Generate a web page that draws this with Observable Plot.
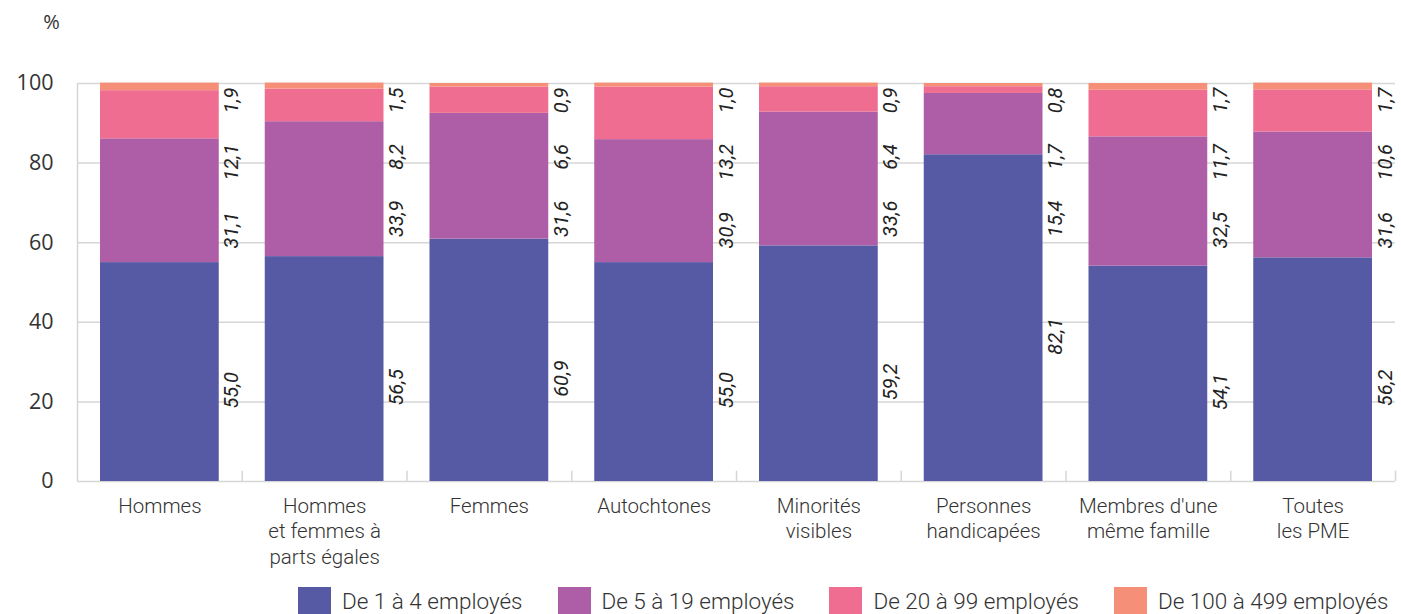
<!DOCTYPE html>
<html>
<head>
<meta charset="utf-8">
<script src="https://cdn.jsdelivr.net/npm/d3@7"></script>
<script src="https://cdn.jsdelivr.net/npm/@observablehq/plot@0.6"></script>
<style>
  html, body { margin: 0; padding: 0; background: #fff; }
  #chart { width: 1401px; }
  .legend { display: flex; justify-content: flex-start; align-items: center; gap: 35px; padding-left: 298px; height: 28px;
    font-family: Roboto, sans-serif; font-weight: 300; font-size: 22.5px; color: #333; white-space: nowrap; }
  .legend .item { display: flex; align-items: center; gap: 11px; }
  .legend .sw { width: 33px; height: 28px; display: inline-block; }
</style>
</head>
<body>
<div id="chart"></div>
<script>
const categories = [
  "Hommes",
  "Hommes\net femmes à\nparts égales",
  "Femmes",
  "Autochtones",
  "Minorités\nvisibles",
  "Personnes\nhandicapées",
  "Membres d'une\nmême famille",
  "Toutes\nles PME"
];
const seriesNames = ["De 1 à 4 employés", "De 5 à 19 employés", "De 20 à 99 employés", "De 100 à 499 employés"];
const colors = ["#5659a3", "#ad5ea6", "#ef6d90", "#f58f78"];
const s1 = [55.0, 56.5, 60.9, 55.0, 59.2, 82.1, 54.1, 56.2];
const s2 = [31.1, 33.9, 31.6, 30.9, 33.6, 15.4, 32.5, 31.6];
const s3 = [12.1, 8.2, 6.6, 13.2, 6.4, 1.7, 11.7, 10.6];
const s4 = [1.9, 1.5, 0.9, 1.0, 0.9, 0.8, 1.7, 1.7];
const yTicks = [0, 20, 40, 60, 80, 100];

const series = [s1, s2, s3, s4];
const data = [];
categories.forEach((c, i) => series.forEach((s, k) => data.push({cat: c, series: seriesNames[k], value: s[i], k})));

const W = 1401, H = 587, mt = 83, mb = 106, ml = 77, mr = 6;
const step = (W - ml - mr) / categories.length;
const yScale = Plot.scale({y: {domain: [0, 100], range: [H - mb, mt]}});
const fmt = v => v.toFixed(1).replace(".", ",");

// label layout: top of each rotated label at segment midpoint, pushed down to avoid overlaps
const labels = [];
categories.forEach((c, i) => {
  let cum = 0;
  const segs = series.map(s => { const lo = cum; cum += s[i]; return {lo, hi: cum, v: s[i]}; });
  let prevBottom = -Infinity;
  for (let k = segs.length - 1; k >= 0; k--) {
    const g = segs[k];
    const text = fmt(g.v);
    const len = text.length * 11.5;
    let top = Math.max(yScale.apply(Math.min((g.lo + g.hi) / 2, 100)), mt + 4, prevBottom + 22);
    prevBottom = top + len;
    labels.push({cat: c, y: yScale.invert(top), text});
  }
});

const chart = Plot.plot({
  width: W, height: H,
  marginTop: mt, marginBottom: mb, marginLeft: ml, marginRight: mr,
  x: {domain: categories, padding: 0, round: false, axis: null},
  y: {domain: [0, 100], axis: null},
  color: {domain: seriesNames, range: colors},
  style: {fontFamily: "Roboto, sans-serif", color: "#333", background: "#fff"},
  marks: [
    Plot.ruleY(yTicks, {stroke: "#d6d6d6", strokeWidth: 1.5}),
    Plot.ruleX(categories, {x: d => d, dx: -step / 2, y1: 0, y2: (d, i) => i === 0 ? 100 : 2.6, stroke: "#d6d6d6", strokeWidth: 1.5}),
    Plot.ruleX([categories[categories.length - 1]], {x: d => d, dx: step / 2, y1: 0, y2: 2.6, stroke: "#d6d6d6", strokeWidth: 1.5}),
    Plot.barY(data, {x: "cat", y: "value", fill: "series", insetLeft: 23, insetRight: 23}),
    Plot.text(labels, {x: "cat", y: "y", text: "text", rotate: -90, textAnchor: "end", dx: 72, fontSize: 20, fontStyle: "italic", fill: "#222"}),
    Plot.text(yTicks, {y: d => d, text: d => String(d), frameAnchor: "left", textAnchor: "end", dx: -24, fontSize: 21.5, fontFamily: "'Open Sans', sans-serif", fill: "#333"}),
    Plot.text(categories, {x: d => d, frameAnchor: "bottom", lineAnchor: "top", dy: 13, lineHeight: 1.25, fontSize: 20.5, fontWeight: 300, fill: "#333", text: d => d}),
    Plot.text(["%"], {frameAnchor: "top-left", textAnchor: "middle", dx: -26, dy: -55, lineAnchor: "bottom", fontSize: 20, fontFamily: "'Open Sans', sans-serif", fill: "#333"})
  ]
});
document.getElementById("chart").appendChild(chart);

const legend = document.createElement("div");
legend.className = "legend";
seriesNames.forEach((n, k) => {
  const it = document.createElement("div");
  it.className = "item";
  it.innerHTML = `<span class="sw" style="background:${colors[k]}"></span><span>${n}</span>`;
  legend.appendChild(it);
});
document.getElementById("chart").appendChild(legend);
</script>
</body>
</html>
